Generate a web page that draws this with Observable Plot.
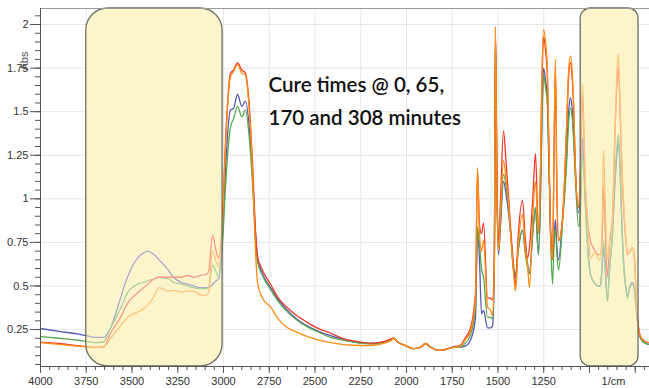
<!DOCTYPE html>
<html>
<head>
<meta charset="utf-8">
<script src="https://cdn.jsdelivr.net/npm/d3@7"></script>
<script src="https://cdn.jsdelivr.net/npm/@observablehq/plot@0.6"></script>
<style>
  html, body { margin: 0; padding: 0; background: #fff; }
  #chart { width: 649px; height: 388px; overflow: hidden; }
</style>
</head>
<body>
<div id="chart"></div>
<script>
// ---- Data ----
const wavenumber = [4000,3900,3800,3750,3700,3655,3617,3563,3525,3470,3437,3415,3380,3352,3300,3273,3230,3197,3164,3130,3100,3082,3060,3040,3027,3005,2990,2962,2945,2923,2900,2880,2860,2842,2825,2814,2787,2743,2700,2650,2600,2541,2480,2415,2350,2290,2230,2180,2120,2080,2071,2050,2000,1962,1920,1896,1870,1814,1760,1730,1705,1680,1650,1623,1612,1601,1590,1579,1557,1541,1530,1520,1514,1505,1497,1486,1470,1455,1440,1432,1415,1404,1390,1366,1350,1339,1328,1310,1295,1279,1268,1260,1251,1240,1230,1220,1213,1202,1192,1186,1178,1169,1148,1125,1115,1104,1095,1085,1077,1060,1048,1039,1022,1008,995,980,967,955,940,930,923,912,902,890,874,860,850,842,834,826,814,800,792,778,765,754,745,738,721,694,672];

const absBlue = [.256,.24,.225,.215,.205,.205,.26,.43,.55,.66,.69,.70,.68,.65,.59,.55,.52,.51,.50,.49,.49,.49,.51,.53,.54,.80,1.15,1.51,1.52,1.60,1.53,1.56,1.42,1.15,.80,.66,.57,.49,.42,.36,.31,.27,.24,.215,.195,.18,.172,.17,.18,.195,.20,.18,.155,.14,.15,.17,.15,.13,.145,.155,.15,.155,.19,.32,.80,.65,.34,.36,.26,.26,.27,.6,1.93,1.0,.68,.85,1.10,1.02,.90,.82,.59,.55,.70,.82,.70,.63,.57,.80,.95,.68,1.0,1.45,1.75,1.68,1.56,1.15,.85,.65,.80,.88,.72,.65,.87,1.25,1.48,1.58,1.52,1.35,1.15,.92,1.05,1.35,.98,.70,.57,.53,.51,.50,.50,.62,.72,.55,.42,.60,.80,1.1,1.25,1.33,1.2,.95,.65,.48,.44,.50,.52,.48,.38,.30,.20,.17,.165];

const absGreen = [.21,.20,.19,.182,.175,.18,.26,.37,.46,.51,.52,.53,.54,.55,.54,.52,.51,.50,.49,.485,.485,.49,.62,.58,.55,.75,1.05,1.41,1.46,1.53,1.47,1.51,1.36,1.10,.76,.64,.56,.48,.41,.35,.305,.265,.235,.205,.19,.178,.17,.168,.178,.195,.20,.18,.155,.14,.15,.17,.15,.13,.145,.15,.15,.17,.22,.38,.84,.74,.60,.55,.32,.32,.31,.6,1.95,1.0,.70,.88,1.14,1.07,.92,.82,.60,.57,.70,.82,.68,.61,.57,.80,.95,.68,.98,1.42,1.71,1.64,1.54,1.1,.80,.51,.78,.82,.68,.59,.85,1.2,1.42,1.52,1.47,1.30,1.12,.84,.95,1.26,.95,.68,.57,.53,.51,.50,.50,.65,.76,.58,.41,.60,.82,1.15,1.30,1.37,1.22,.95,.62,.48,.43,.50,.51,.47,.38,.30,.20,.17,.165];

const absRed = [.178,.17,.158,.152,.148,.15,.23,.32,.40,.46,.49,.51,.54,.55,.55,.55,.55,.56,.55,.56,.565,.58,.79,.70,.66,.90,1.30,1.72,1.74,1.78,1.74,1.72,1.55,1.22,.82,.67,.59,.51,.43,.375,.33,.29,.255,.23,.20,.185,.175,.172,.182,.198,.20,.18,.155,.14,.15,.17,.15,.13,.145,.152,.16,.20,.26,.46,1.16,.85,.80,.86,.43,.43,.42,.65,1.97,1.05,.75,1.0,1.39,1.2,.98,.85,.62,.50,.78,.99,.76,.66,.72,1.0,1.26,.80,1.15,1.65,1.93,1.85,1.7,1.2,.82,.65,1.4,1.75,1.0,.76,.88,1.4,1.68,1.78,1.70,1.48,1.18,.95,1.2,1.6,1.05,.85,.76,.72,.70,.68,.68,.80,1.07,.75,.55,.75,.90,1.4,1.65,1.75,1.55,1.25,.95,.75,.68,.70,.72,.66,.45,.33,.21,.18,.175];

const absOrange = [.175,.165,.155,.15,.146,.15,.20,.27,.32,.35,.37,.39,.44,.49,.47,.475,.465,.47,.47,.45,.445,.46,.70,.64,.61,.88,1.28,1.70,1.73,1.77,1.72,1.71,1.52,1.18,.70,.52,.43,.38,.31,.26,.235,.21,.19,.175,.165,.16,.158,.16,.172,.19,.20,.18,.155,.14,.15,.17,.15,.13,.145,.15,.155,.19,.24,.42,1.18,.80,.70,.76,.38,.36,.33,.60,1.99,1.0,.70,.92,1.22,1.10,.95,.82,.58,.47,.72,.91,.70,.63,.49,.90,1.10,.80,1.15,1.7,1.97,1.9,1.75,1.2,.80,.65,1.45,1.80,1.1,.76,.87,1.42,1.72,1.82,1.74,1.5,1.18,.95,1.25,1.66,1.07,.85,.66,.68,.70,.66,.65,.90,1.28,.90,.65,.75,.89,1.4,1.72,1.83,1.6,1.3,.99,.75,.68,.70,.72,.65,.45,.32,.21,.18,.175];

const seriesNames = ["0 min", "65 min", "170 min", "308 min"];
const seriesValues = [absBlue, absGreen, absRed, absOrange];

const highlightFrom = [3750, 1048];
const highlightTo = [3005, 732];

const xMajorTicks = [4000,3750,3500,3250,3000,2750,2500,2250,2000,1750,1500,1250,1000,750];
const xLabelTicks = [4000,3750,3500,3250,3000,2750,2500,2250,2000,1750,1500,1250];
const xMinorTicks = d3.range(4000, 670, -50);
const yMajorTicks = [0.25,0.5,0.75,1,1.25,1.5,1.75,2];
const yMinorTicks = d3.range(0.05, 2.09, 0.05).map(v => +v.toFixed(2));

const xDomain = [4000, 672];
const yDomain = [0.038, 2.092];

const annotation = "Cure times @ 0, 65,\n170 and 308 minutes";
const xAxisUnit = "1/cm";
const yAxisLabel = "Abs";

// ---- Build table ----
const rows = [];
seriesNames.forEach((name, i) => {
  wavenumber.forEach((w, j) => rows.push({wn: w, abs: seriesValues[i][j], series: name}));
});
const bandsLeft = [{from: highlightFrom[0], to: highlightTo[0]}];
const bandsRight = [{from: highlightFrom[1], to: highlightTo[1]}];

const chart = Plot.plot({
  width: 649,
  height: 388,
  marginLeft: 40,
  marginRight: 0,
  marginTop: 8,
  marginBottom: 22,
  style: {fontFamily: "'Liberation Sans', Arial, sans-serif", fontSize: "11px", color: "#333", background: "#fff"},
  x: {domain: xDomain, label: null},
  y: {domain: yDomain, label: null},
  color: {domain: seriesNames, range: ["#5555b5", "#55a84f", "#ee3a2a", "#ff8c10"]},
  marks: [
    Plot.gridX(xMajorTicks, {stroke: "#e6e6e6", strokeOpacity: 1}),
    Plot.gridY(yMajorTicks, {stroke: "#e6e6e6", strokeOpacity: 1}),
    Plot.rect(bandsLeft, {x1: "from", x2: "to", fill: "#f9efb0", rx: 22, ry: 22}),
    Plot.rect(bandsRight, {x1: "from", x2: "to", fill: "#f9efb0", rx: 10, ry: 10}),
    Plot.line(rows, {x: "wn", y: "abs", z: "series", stroke: "series", strokeWidth: 1.3, curve: "monotone-x"}),
    Plot.rect(bandsLeft, {x1: "from", x2: "to", fill: "#fffbe6", fillOpacity: 0.5, stroke: "#6e6e62", strokeWidth: 1.3, rx: 22, ry: 22}),
    Plot.rect(bandsRight, {x1: "from", x2: "to", fill: "#fffbe6", fillOpacity: 0.5, stroke: "#6e6e62", strokeWidth: 1.3, rx: 10, ry: 10}),
    Plot.ruleY([yDomain[1]], {stroke: "#9a9a9a"}),
    Plot.ruleX([xDomain[0]], {stroke: "#555"}),
    Plot.ruleY([yDomain[0]], {stroke: "#555"}),
    Plot.axisY(yMinorTicks, {tickSize: 5, text: null, stroke: "#555", label: null}),
    Plot.axisY(yMajorTicks, {tickSize: 10, tickPadding: 2, tickFormat: d => String(d), stroke: "#555", label: null}),
    Plot.axisX(xMinorTicks, {tickSize: 4, text: null, stroke: "#555", label: null}),
    Plot.axisX(xMajorTicks, {tickSize: 7, text: null, stroke: "#555", label: null}),
    Plot.axisX(xLabelTicks, {tickSize: 0, tickPadding: 11, tickFormat: d => String(d), label: null}),
    Plot.text([xAxisUnit], {frameAnchor: "bottom-right", dx: -36, dy: 11, lineAnchor: "top", textAnchor: "middle", fill: "#333"}),
    Plot.text([yAxisLabel], {frameAnchor: "top-left", dx: -16, dy: 62, rotate: -90, textAnchor: "start", lineAnchor: "middle", fill: "#555"}),
    Plot.text([annotation], {frameAnchor: "top-left", dx: 228, dy: 59, lineAnchor: "top", textAnchor: "start", lineHeight: 1.65, fontSize: 20.5, fontWeight: 600, fontFamily: "Lato, 'Open Sans', sans-serif", fill: "#111"})
  ]
});
document.getElementById("chart").appendChild(chart);
</script>
</body>
</html>
